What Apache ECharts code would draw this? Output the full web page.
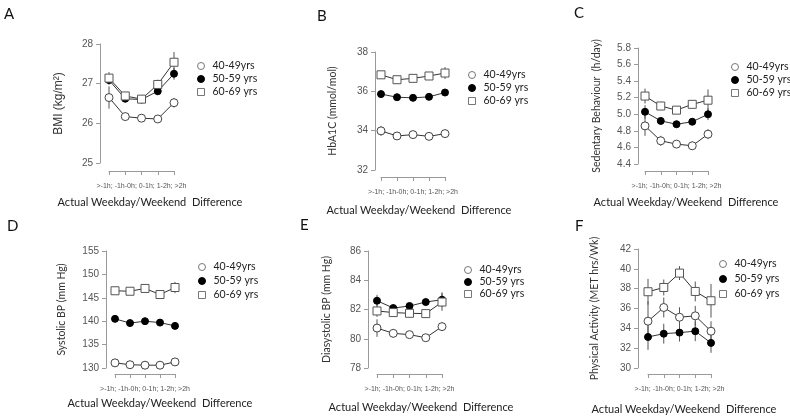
<!DOCTYPE html>
<html>
<head>
<meta charset="utf-8">
<script src="https://cdn.jsdelivr.net/npm/echarts@6/dist/echarts.min.js"></script>
<style>html,body{margin:0;padding:0;background:#fff;}#c{width:790px;height:420px;}</style>
</head>
<body>
<div id="c"></div>
<script>
// ---------- data ----------
const categories = ['>-1h', '-1h-0h', '0-1h', '1-2h', '>2h'];
const tickLabelText = '>-1h; -1h-0h; 0-1h; 1-2h; >2h';
const groupNames = ['40-49yrs', '50-59 yrs', '60-69 yrs'];
const xTitle = 'Actual Weekday/Weekend  Difference';

// A: BMI
const bmi40 = [26.65, 26.17, 26.13, 26.11, 26.52];
const bmi50 = [27.09, 26.62, 26.60, 26.81, 27.25];
const bmi60 = [27.14, 26.69, 26.61, 26.98, 27.54];
const bmi40Err = [0.28, 0.10, 0.08, 0.08, 0.12];
const bmi50Err = [0.12, 0.08, 0.05, 0.10, 0.15];
const bmi60Err = [0.15, 0.08, 0.05, 0.12, 0.26];

// B: HbA1C
const hba40 = [33.99, 33.73, 33.80, 33.71, 33.85];
const hba50 = [35.86, 35.70, 35.67, 35.72, 35.94];
const hba60 = [36.84, 36.59, 36.66, 36.78, 36.93];
const hba40Err = [0.25, 0.10, 0.10, 0.10, 0.10];
const hba50Err = [0.15, 0.08, 0.08, 0.08, 0.18];
const hba60Err = [0.20, 0.10, 0.10, 0.12, 0.30];

// C: Sedentary behaviour
const sed40 = [4.86, 4.68, 4.64, 4.62, 4.76];
const sed50 = [5.03, 4.92, 4.88, 4.91, 5.00];
const sed60 = [5.22, 5.10, 5.05, 5.12, 5.17];
const sed40Err = [0.12, 0.06, 0.04, 0.05, 0.06];
const sed50Err = [0.08, 0.04, 0.04, 0.04, 0.07];
const sed60Err = [0.09, 0.05, 0.03, 0.05, 0.13];

// D: Systolic BP
const sys40 = [131.1, 130.7, 130.6, 130.6, 131.3];
const sys50 = [140.5, 139.6, 140.0, 139.7, 139.0];
const sys60 = [146.5, 146.4, 147.0, 145.7, 147.2];
const sys40Err = [0.8, 0.3, 0.3, 0.3, 0.4];
const sys50Err = [0.4, 0.4, 0.4, 0.4, 0.4];
const sys60Err = [0.8, 0.4, 0.4, 0.5, 1.2];

// E: Diastolic BP
const dia40 = [80.73, 80.37, 80.28, 80.07, 80.83];
const dia50 = [82.60, 82.10, 82.24, 82.51, 82.67];
const dia60 = [81.90, 81.79, 81.74, 81.72, 82.51];
const dia40Err = [0.6, 0.3, 0.2, 0.2, 0.3];
const dia50Err = [0.4, 0.2, 0.2, 0.2, 0.5];
const dia60Err = [0.4, 0.2, 0.2, 0.3, 0.6];

// F: Physical activity
const pa40 = [34.72, 36.10, 35.12, 35.26, 33.71];
const pa50 = [33.13, 33.46, 33.57, 33.71, 32.53];
const pa60 = [37.69, 38.12, 39.57, 37.72, 36.78];
const pa40Err = [2.0, 1.0, 1.0, 1.0, 1.0];
const pa50Err = [1.3, 1.0, 0.9, 1.0, 1.0];
const pa60Err = [1.3, 0.8, 0.7, 1.0, 1.7];

// ---------- layout ----------
const panels = [
  {letter:'A', yName:'BMI (kg/m²)', nameFont:'Liberation Sans', nameSize:12, min:25, max:28, interval:1, dec:0,
   vals:[bmi40,bmi50,bmi60], errs:[bmi40Err,bmi50Err,bmi60Err],
   grid:{left:109, top:44, width:65, height:119}, yOff:9, xOff:8, nameGap:35,
   legend:{left:192, top:55, gap:1}, letterPos:[4,7], titlePos:[150,202]},
  {letter:'B', yName:'HbA1C (mmol/mol)', nameFont:'Lato', nameSize:10.5, min:32, max:38, interval:2, dec:0,
   vals:[hba40,hba50,hba60], errs:[hba40Err,hba50Err,hba60Err],
   grid:{left:381, top:52, width:64, height:118}, yOff:6, xOff:7, nameGap:37,
   legend:{left:463, top:64, gap:1}, letterPos:[317,9], titlePos:[419,210]},
  {letter:'C', yName:'Sedentary Behaviour  (h/day)', nameFont:'Lato', nameSize:10.5, min:4.4, max:5.8, interval:0.2, dec:1,
   vals:[sed40,sed50,sed60], errs:[sed40Err,sed50Err,sed60Err],
   grid:{left:645, top:48, width:63, height:116}, yOff:7, xOff:7, nameGap:36,
   legend:{left:726, top:56, gap:1}, letterPos:[574,6], titlePos:[686,202]},
  {letter:'D', yName:'Systolic BP (mm Hg)', nameFont:'Lato', nameSize:10.5, min:130, max:155, interval:5, dec:0,
   vals:[sys40,sys50,sys60], errs:[sys40Err,sys50Err,sys60Err],
   grid:{left:115, top:251, width:60, height:117}, yOff:9, xOff:6, nameGap:39,
   legend:{left:193, top:256, gap:2}, letterPos:[7,219], titlePos:[160,403]},
  {letter:'E', yName:'Diasystolic BP (mm Hg)', nameFont:'Lato', nameSize:10.5, min:78, max:86, interval:2, dec:0,
   vals:[dia40,dia50,dia60], errs:[dia40Err,dia50Err,dia60Err],
   grid:{left:377, top:251, width:65, height:117}, yOff:9, xOff:6, nameGap:36,
   legend:{left:459, top:259, gap:0}, letterPos:[300,218], titlePos:[421,407]},
  {letter:'F', yName:'Physical Activity (MET hrs/Wk)', nameFont:'Lato', nameSize:10.5, min:30, max:42, interval:2, dec:0,
   vals:[pa40,pa50,pa60], errs:[pa40Err,pa50Err,pa60Err],
   grid:{left:648, top:249, width:63, height:119}, yOff:10, xOff:6, nameGap:38,
   legend:{left:714, top:253, gap:3}, letterPos:[575,219], titlePos:[684,409]}
];

const symStyles = [
  {symbol:'circle', size:8, item:{color:'#fff', borderColor:'#444', borderWidth:1}},
  {symbol:'circle', size:7, item:{color:'#000', borderColor:'#000', borderWidth:1}},
  {symbol:'rect', size:8, item:{color:'#fff', borderColor:'#555', borderWidth:1}}
];

const axisGrey = '#9a9a9a';
const grids = [], xAxes = [], yAxes = [], series = [], legends = [], graphics = [];

panels.forEach((p, k) => {
  grids.push(Object.assign({containLabel:false}, p.grid));
  xAxes.push({
    type:'category', gridIndex:k, data:categories, boundaryGap:false, offset:p.xOff,
    axisLine:{show:true, lineStyle:{color:axisGrey, width:1}},
    axisTick:{show:true, length:4, interval:0, lineStyle:{color:axisGrey}},
    axisLabel:{show:false, interval:0},
    splitLine:{show:false},
    name:tickLabelText, nameLocation:'middle', nameGap:12,
    nameTextStyle:{fontFamily:'Liberation Sans', fontSize:7, color:'#555'}
  });
  yAxes.push({
    type:'value', gridIndex:k, min:p.min, max:p.max, interval:p.interval, offset:p.yOff,
    axisLine:{show:true, lineStyle:{color:axisGrey, width:1}},
    axisTick:{show:true, length:4, lineStyle:{color:axisGrey}},
    axisLabel:{margin:7, fontFamily:'Liberation Sans', fontSize:10, color:'#555',
      formatter:(v)=>v.toFixed(p.dec)},
    splitLine:{show:false},
    name:p.yName, nameLocation:'middle', nameGap:p.nameGap, nameRotate:90,
    nameTextStyle:{fontFamily:p.nameFont, fontSize:p.nameSize, color:'#333'}
  });
  p.vals.forEach((vals, g) => {
    const e = p.errs[g];
    series.push({
      type:'custom', xAxisIndex:k, yAxisIndex:k, silent:true, z:1,
      data: vals.map((v,i)=>[i, v - e[i], v + e[i]]),
      encode:{x:0, y:[1,2]},
      renderItem:(params, api)=>{
        const a = api.coord([api.value(0), api.value(1)]);
        const b = api.coord([api.value(0), api.value(2)]);
        return {type:'line', shape:{x1:a[0], y1:a[1], x2:b[0], y2:b[1]},
                style:{stroke:'#555', lineWidth:1}};
      }
    });
  });
  p.vals.forEach((vals, g) => {
    const s = symStyles[g];
    series.push({
      type:'line', name:groupNames[g], xAxisIndex:k, yAxisIndex:k, z:3,
      data:vals, symbol:s.symbol, symbolSize:s.size, showAllSymbol:true,
      itemStyle:s.item, lineStyle:{color:'#333', width:1},
      emphasis:{disabled:true}
    });
  });
  legends.push({
    left:p.legend.left, top:p.legend.top, orient:'vertical', selectedMode:false,
    itemWidth:7, itemHeight:7, itemGap:p.legend.gap,
    itemStyle:{borderWidth:1},
    data: groupNames.map((n,g)=>({name:n, icon: g===2 ? 'rect' : 'circle',
      itemStyle:{color:symStyles[g].item.color, borderColor:g===1 ? '#000' : '#777', borderWidth:1}})),
    textStyle:{fontFamily:'Lato', fontSize:10.5, color:'#222', lineHeight:12, padding:[0,0,0,3]}
  });
  graphics.push({type:'text', left:p.letterPos[0], top:p.letterPos[1],
    style:{text:p.letter, font:'15px Lato', fill:'#111'}});
  graphics.push({type:'text', x:p.titlePos[0], y:p.titlePos[1],
    style:{text:xTitle, font:'11px Lato', fill:'#222', textAlign:'center', textVerticalAlign:'middle'}});
});

const chart = echarts.init(document.getElementById('c'), null, {renderer:'canvas'});
chart.setOption({
  backgroundColor:'#fff', animation:false,
  grid:grids, xAxis:xAxes, yAxis:yAxes, series:series, legend:legends, graphic:graphics
});
</script>
</body>
</html>
